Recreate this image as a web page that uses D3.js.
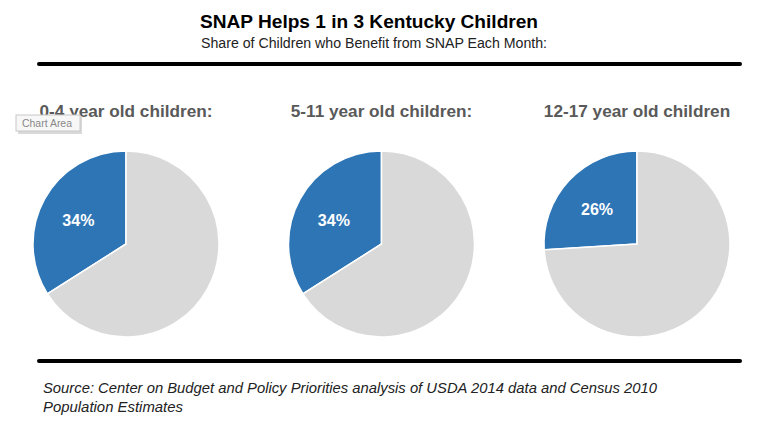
<!DOCTYPE html>
<html><head><meta charset="utf-8">
<script src="https://cdn.jsdelivr.net/npm/d3@7"></script>
<style>body{margin:0;background:#fff;}svg{display:block;font-family:"Liberation Sans",Arial,sans-serif;}</style>
</head><body>
<svg id="c" width="768" height="446"></svg>
<script>
const groups = ["0-4 year old children:", "5-11 year old children:", "12-17 year old children"];
const snapShare = [34, 34, 26];
const sliceLabels = ["34%", "34%", "26%"];
const colors = ["#2E75B6", "#D9D9D9"];

const svg = d3.select("#c");

svg.append("text").attr("x", 200).attr("y", 28)
  .attr("font-size", 19).attr("font-weight", "bold").attr("fill", "#000")
  .attr("textLength", 338).attr("lengthAdjust", "spacingAndGlyphs")
  .text("SNAP Helps 1 in 3 Kentucky Children");
svg.append("text").attr("x", 201).attr("y", 48)
  .attr("font-size", 14).attr("fill", "#222")
  .attr("textLength", 346).attr("lengthAdjust", "spacingAndGlyphs")
  .text("Share of Children who Benefit from SNAP Each Month:");

svg.append("line").attr("x1", 39).attr("x2", 740).attr("y1", 64).attr("y2", 64)
  .attr("stroke", "#000").attr("stroke-width", 4).attr("stroke-linecap", "round");
svg.append("line").attr("x1", 39).attr("x2", 740).attr("y1", 361).attr("y2", 361)
  .attr("stroke", "#000").attr("stroke-width", 4).attr("stroke-linecap", "round");

const x = d3.scalePoint().domain(groups).range([126, 637]);
const R = 93, cy = 244;
const pie = d3.pie().sort(null).value(d => d.v).startAngle(0).endAngle(-2 * Math.PI);
const arc = d3.arc().innerRadius(0).outerRadius(R);
const labelArc = d3.arc().innerRadius(R * 0.56).outerRadius(R * 0.56);

groups.forEach((g, i) => {
  const cx = x(g);
  svg.append("text").attr("x", cx).attr("y", 117).attr("text-anchor", "middle")
    .attr("font-size", 17.2).attr("font-weight", "bold").attr("fill", "#595959").text(g);
  const data = [{v: snapShare[i], k: 0}, {v: 100 - snapShare[i], k: 1}];
  const gp = svg.append("g").attr("transform", `translate(${cx},${cy})`);
  const arcs = pie(data);
  gp.selectAll("path").data(arcs).join("path")
    .attr("d", arc).attr("fill", d => colors[d.data.k])
    .attr("stroke", "#fff").attr("stroke-width", 1.5);
  const c = labelArc.centroid(arcs[0]);
  gp.append("text").attr("x", c[0] - 2).attr("y", c[1] + 1).attr("dy", "0.35em")
    .attr("text-anchor", "middle").attr("font-size", 16).attr("font-weight", "bold")
    .attr("fill", "#fff").text(sliceLabels[i]);
});

// Excel "Chart Area" tooltip
const tip = svg.append("g").attr("transform", "translate(16,115)");
tip.append("rect").attr("x", 2).attr("y", 2).attr("width", 64).attr("height", 17).attr("fill", "#aaa").attr("opacity", 0.45);
tip.append("rect").attr("width", 64).attr("height", 16).attr("fill", "#f7f7f7").attr("stroke", "#c8c8c8");
tip.append("text").attr("x", 6).attr("y", 12).attr("font-size", 10.5).attr("fill", "#888")
  .attr("textLength", 50).attr("lengthAdjust", "spacingAndGlyphs").text("Chart Area");

svg.append("text").attr("x", 43).attr("y", 393).attr("font-size", 14.5).attr("font-style", "italic")
  .attr("fill", "#222").attr("textLength", 614).attr("lengthAdjust", "spacingAndGlyphs")
  .text("Source: Center on Budget and Policy Priorities analysis of USDA 2014 data and Census 2010");
svg.append("text").attr("x", 43).attr("y", 412).attr("font-size", 14.5).attr("font-style", "italic")
  .attr("fill", "#222").attr("textLength", 140).attr("lengthAdjust", "spacingAndGlyphs")
  .text("Population Estimates");
</script>
</body></html>
